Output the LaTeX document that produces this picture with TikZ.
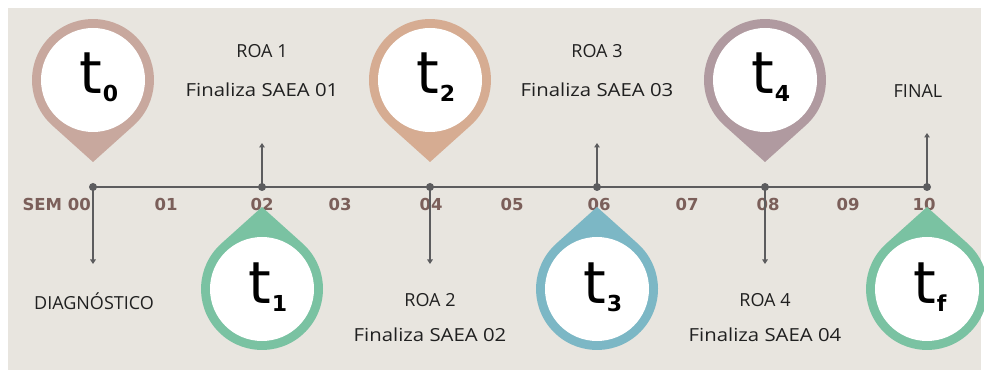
\documentclass[tikz,border=0pt]{standalone}
\usepackage{fontspec}
\setmainfont{Open Sans}
\newfontfamily\markfont{DejaVu Sans}
\usetikzlibrary{arrows.meta,calc}

\definecolor{paper}{HTML}{E8E5DF}
\definecolor{axisgray}{HTML}{5C5C5E}
\definecolor{tickbrown}{HTML}{7B5F5A}
\definecolor{textdark}{HTML}{202020}
\definecolor{rosepin}{HTML}{C8A89E}
\definecolor{tanpin}{HTML}{D6AC92}
\definecolor{mauvepin}{HTML}{B09AA0}
\definecolor{greenpin}{HTML}{7AC2A2}
\definecolor{bluepin}{HTML}{7CB7C5}

% drop-shaped marker: name, centre, direction of the tip, colour, index
\newcommand\dropmarker[5]{%
  \coordinate (#1) at (#2);
  \fill[#4] ($(#1)+(#3:82)$) -- ($(#1)+(#3+42:61)$)
    arc[start angle=#3+42, delta angle=276, radius=61] -- cycle;
  \node[circle, fill=white, minimum size=104pt, inner sep=0pt] (#1-face) at (#1) {};
  \node[font=\markfont, text=black, anchor=base west, inner sep=0pt] (#1-text) at ($(#1)+(-14,-14)$)
    {\fontsize{58}{58}\selectfont t\kern1pt\raisebox{-8pt}{\bfseries\fontsize{22}{22}\selectfont #5}};
}

\begin{document}
\begin{tikzpicture}[x=1pt,y=1pt,
  axisline/.style={draw=axisgray, line width=1.7pt},
  event/.style={axisline, -{Triangle[width=5.5pt,length=4.5pt]}},
  ticklabel/.style={font=\markfont\bfseries\fontsize{16.5}{16.5}\selectfont, text=tickbrown, inner sep=0pt},
  eventtext/.style={font=\fontsize{18}{18}\selectfont, text=textdark, inner sep=0pt},
  longtext/.style={eventtext, xscale=1.13, transform shape},
  dotmark/.style={circle, fill=axisgray, minimum size=8pt, inner sep=0pt}]

\useasboundingbox (0,0) rectangle (984,372);
\fill[paper] (8,2) rectangle (981,364);

% time axis
\draw[axisline] (93,185) -- (927,185);

% semester labels
\node[ticklabel, anchor=east] (s00) at (91,168) {SEM 00};
\node[ticklabel] (s01) at (166,168) {01};
\node[ticklabel] (s02) at (262,168) {02};
\node[ticklabel] (s03) at (340,168) {03};
\node[ticklabel] (s04) at (431,168) {04};
\node[ticklabel] (s05) at (512,168) {05};
\node[ticklabel] (s06) at (599,168) {06};
\node[ticklabel] (s07) at (687,168) {07};
\node[ticklabel] (s08) at (768,168) {08};
\node[ticklabel] (s09) at (848,168) {09};
\node[ticklabel] (s10) at (924,168) {10};

% milestone points on the axis
\node[dotmark] (p00) at (93,185) {};
\node[dotmark] (p02) at (262,185) {};
\node[dotmark] (p04) at (430,185) {};
\node[dotmark] (p06) at (597,185) {};
\node[dotmark] (p08) at (765,185) {};
\node[dotmark] (p10) at (927,185) {};

% arrow ends
\coordinate (e00) at (93,108);
\coordinate (e02) at (262,229);
\coordinate (e04) at (430,108);
\coordinate (e06) at (597,229);
\coordinate (e08) at (765,108);
\coordinate (e10) at (927,239);

\draw[event] (p00.center) -- (e00);
\draw[event] (p02.center) -- (e02);
\draw[event] (p04.center) -- (e04);
\draw[event] (p06.center) -- (e06);
\draw[event] (p08.center) -- (e08);
\draw[event] (p10.center) -- (e10);

% milestone descriptions
\node[eventtext] (roa1) at (262,321) {ROA 1};
\node[longtext] (saea1) at (262,282) {Finaliza SAEA 01};
\node[eventtext] (roa3) at (597,321) {ROA 3};
\node[longtext] (saea3) at (597,282) {Finaliza SAEA 03};
\node[eventtext] (final) at (918,281) {FINAL};
\node[eventtext] (diag) at (94,71) {DIAGNÓSTICO};
\node[eventtext] (roa2) at (430,72) {ROA 2};
\node[longtext] (saea2) at (430,37) {Finaliza SAEA 02};
\node[eventtext] (roa4) at (765,72) {ROA 4};
\node[longtext] (saea4) at (765,37) {Finaliza SAEA 04};

% time markers
\dropmarker{t0}{93,292}{-90}{rosepin}{0}
\dropmarker{t2}{430,292}{-90}{tanpin}{2}
\dropmarker{t4}{765,292}{-90}{mauvepin}{4}
\dropmarker{t1}{262,83}{90}{greenpin}{1}
\dropmarker{t3}{597,83}{90}{bluepin}{3}
\dropmarker{tf}{927,83}{90}{greenpin}{f}
\end{tikzpicture}
\end{document}
